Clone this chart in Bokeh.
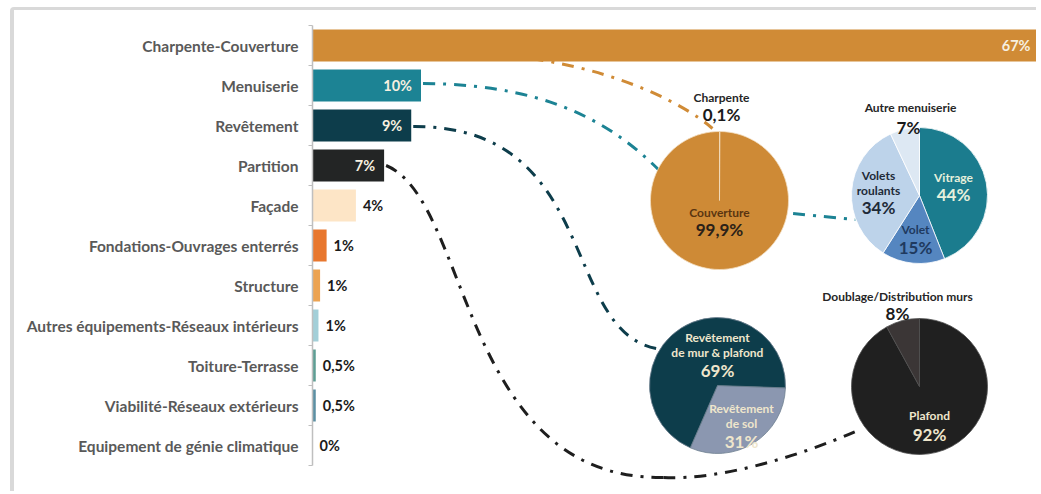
import math
from bokeh.plotting import figure
from bokeh.models import (Range1d, LinearAxis, FixedTicker, ColumnDataSource,
                          CustomJSTickFormatter)
from bokeh.core.properties import value
from bokeh.embed import file_html
from bokeh.resources import INLINE

# ---------------- data ----------------
categories = ["Charpente-Couverture", "Menuiserie", "Revêtement", "Partition", "Façade",
              "Fondations-Ouvrages enterrés", "Structure",
              "Autres équipements-Réseaux intérieurs", "Toiture-Terrasse",
              "Viabilité-Réseaux extérieurs", "Equipement de génie climatique"]
shares = [67, 10, 9.1, 6.6, 4.0, 1.3, 0.7, 0.55, 0.3, 0.3, 0.0]
share_labels = ["67%", "10%", "9%", "7%", "4%", "1%", "1%", "1%", "0,5%", "0,5%", "0%"]
bar_colors = ["#D08B36", "#1C8394", "#0D3D4B", "#232525", "#FDE5C6", "#E8772E",
              "#ECA352", "#A3CFD8", "#5E9E94", "#5B8FA3", "#FFFFFF"]

couverture_parts = ["Charpente", "Couverture"]
couverture_values = [0.1, 99.9]
menuiserie_parts = ["Vitrage", "Volet", "Volets\nroulants", "Autre menuiserie"]
menuiserie_values = [44, 15, 34, 7]
revetement_parts = ["Revêtement\nde sol", "Revêtement\nde mur & plafond"]
revetement_values = [31, 69]
partition_parts = ["Plafond", "Doublage/Distribution murs"]
partition_values = [92, 8]

# ---------------- layout (page pixels) ----------------
FONT = "Lato"
MARGIN_L, MARGIN_T = 10, 7             # white space outside the card
BORDER_L, BORDER_T = 4, 3              # css card border (canvas starts after it)
ORIGIN_X, ORIGIN_Y = MARGIN_L + BORDER_L, MARGIN_T + BORDER_T
PAGE_W, PAGE_H = 1040, 494
W, H = PAGE_W - ORIGIN_X, PAGE_H - ORIGIN_Y
CAT_TOP, CAT_BOTTOM = 25, 465          # page y of the category band
FRAME_LEFT, FRAME_TOP = 312, ORIGIN_Y + 3
N = len(categories)
PX = 10.85                             # pixels per percent
SLOT = (CAT_BOTTOM - CAT_TOP) / N
X_MAX = (PAGE_W - FRAME_LEFT) / PX


def bar_end(i):
    return FRAME_LEFT + shares[i] * PX


def cat_mid(i):
    return CAT_TOP + SLOT * (i + 0.5)


def fmt(v):
    if float(v).is_integer():
        return f"{int(v)}%"
    return f"{v}".replace(".", ",") + "%"


y_lo = N + (PAGE_H - CAT_BOTTOM) / SLOT
y_hi = -(CAT_TOP - FRAME_TOP) / SLOT
p = figure(width=W, height=H,
           x_range=Range1d(0, X_MAX), y_range=Range1d(y_lo, y_hi),
           x_axis_location=None, y_axis_location=None,
           output_backend="svg", toolbar_location=None,
           min_border_left=FRAME_LEFT - ORIGIN_X, min_border_right=0,
           min_border_top=FRAME_TOP - ORIGIN_Y, min_border_bottom=0,
           outline_line_color=None, background_fill_color="white",
           border_fill_color="white")
p.styles = {"margin-left": f"{MARGIN_L}px", "margin-top": f"{MARGIN_T}px",
            "border-top": f"{BORDER_T}px solid #D9D9D9",
            "border-left": f"{BORDER_L}px solid #D9D9D9",
            "border-top-left-radius": "4px"}
p.xgrid.visible = False
p.ygrid.visible = False
p.extra_x_ranges = {"lay": Range1d(FRAME_LEFT, PAGE_W)}
p.extra_y_ranges = {"lay": Range1d(PAGE_H, FRAME_TOP)}

ypos = [i + 0.5 for i in range(N)]

# axes: inner tick axis (category boundaries) + outer category label axis
tick_axis = LinearAxis(ticker=FixedTicker(ticks=list(range(N + 1))), bounds=(0, N),
                       formatter=CustomJSTickFormatter(code="return ''"),
                       major_tick_out=4, major_tick_in=0, minor_tick_out=0, minor_tick_in=0,
                       major_label_standoff=0, axis_line_color="#BFBFBF",
                       major_tick_line_color="#BFBFBF", minor_tick_line_color=None,
                       axis_line_width=1.5, major_label_text_font_size="1px")
p.add_layout(tick_axis, "left")
cat_axis = LinearAxis(ticker=FixedTicker(ticks=ypos),
                      formatter=CustomJSTickFormatter(args=dict(names=categories),
                                                      code="return names[Math.floor(tick)] || ''"),
                      major_tick_out=0, major_tick_in=0, minor_tick_out=0, minor_tick_in=0,
                      axis_line_color=None, major_tick_line_color=None,
                      minor_tick_line_color=None, major_label_standoff=10,
                      major_label_text_font=FONT, major_label_text_font_style="bold",
                      major_label_text_font_size="15.5px", major_label_text_color="#595959")
p.add_layout(cat_axis, "left")

# ---------------- connector curves ----------------
DASH = "12 8 3 8"
curves = [
    # (color, x0, y0, cx0, cy0, cx1, cy1, x1, y1)
    ("#D08B36", 500, 55, 600, 62, 680, 100, 712, 128),
    ("#1C8394", bar_end(1) + 2, cat_mid(1) - 2, 560, 84, 630, 130, 690, 205),
    ("#1C8394", 700, 203, 760, 210, 820, 216, 855, 219),
    ("#0D3D4B", bar_end(2) + 2, cat_mid(2) + 1, 600, 125, 560, 330, 656, 348),
    ("#1E1E1E", bar_end(3) + 2, cat_mid(3), 470, 200, 460, 480, 663, 477),
    ("#1E1E1E", 663, 477, 720, 480, 800, 455, 855, 431),
]
for c, x0, y0, cx0, cy0, cx1, cy1, x1, y1 in curves:
    p.bezier(x0=x0, y0=y0, x1=x1, y1=y1, cx0=cx0, cy0=cy0, cx1=cx1, cy1=cy1,
             line_color=c, line_width=3, line_dash=DASH,
             x_range_name="lay", y_range_name="lay")

# ---------------- bars ----------------
bars = ColumnDataSource(dict(y=ypos, share=shares, color=bar_colors))
p.hbar(y="y", left=0, right="share", height=0.8, fill_color="color",
       line_color=None, source=bars)

inside = [0, 1, 2, 3]
outside = [i for i in range(N) if i not in inside]
p.text(x=[shares[i] for i in inside], y=[ypos[i] for i in inside],
       text=[share_labels[i] for i in inside], x_offset=-9,
       text_align="right", text_baseline="middle", text_font=value(FONT),
       text_font_style="bold", text_font_size="14.5px", text_color="#F7F0E0")
p.text(x=[shares[i] for i in outside], y=[ypos[i] for i in outside],
       text=[share_labels[i] for i in outside], x_offset=7,
       text_align="left", text_baseline="middle", text_font=value(FONT),
       text_font_style="bold", text_font_size="14.5px", text_color="#1A1A1A")

# ---------------- pies ----------------
CREAM = "#EFE6CC"
pies = [
    dict(parts=couverture_parts, values=couverture_values, colors=["#CE8A36", "#CE8A36"],
         edge="#F3DDBF", center=(719, 200), r=69, start=0,
         labels=[(0, (721, 97), "#262626", "#1A1A1A", 0, 17),
                 (1, (719, 212), "#5A3510", "#2B2118", 0, 17)]),
    dict(parts=menuiserie_parts, values=menuiserie_values,
         colors=["#1B7C8E", "#5586C0", "#BDD3EA", "#DDE8F3"],
         edge="white", center=(919, 195), r=68, start=0,
         labels=[(0, (953, 177), "#E6F0DC", "#E6F0DC", 0, 17),
                 (1, (915, 229), "#1F3A5F", "#1F3A5F", 0, 18),
                 (2, (878, 175), "#1E2A38", "#1E2A38", 0, 17),
                 (3, (910, 107), "#262626", "#1A1A1A", -2, 20)]),
    dict(parts=revetement_parts, values=revetement_values, colors=["#8B97B0", "#0D3D4B"],
         edge="#6F8090", center=(717, 385), r=68, start=92,
         labels=[(0, (741, 408), CREAM, CREAM, 0, 18),
                 (1, (717, 337), CREAM, CREAM, 0, 18)]),
    dict(parts=partition_parts, values=partition_values, colors=["#202020", "#3B3636"],
         edge="#505050", center=(919, 386), r=68, start=0,
         labels=[(0, (929, 415), CREAM, CREAM, 0, 19),
                 (1, (897, 296), "#262626", "#1A1A1A", 0, 17)]),
]

tx = dict(x=[], y=[], text=[], size=[], color=[])


def add_text(x, y, t, size, color):
    tx["x"].append(x); tx["y"].append(y); tx["text"].append(t)
    tx["size"].append(size); tx["color"].append(color)


for pie in pies:
    cx, cy = pie["center"]
    vals = pie["values"]
    total = float(sum(vals))
    acc = pie["start"]
    starts, ends = [], []
    for v in vals:
        a1 = acc + 360.0 * v / total
        starts.append(math.radians(90 - acc))
        ends.append(math.radians(90 - a1))
        acc = a1
    p.wedge(x=cx, y=cy, radius=pie["r"], start_angle=starts, end_angle=ends,
            direction="clock", fill_color=pie["colors"], line_color=pie["edge"],
            line_width=0.8, x_range_name="lay", y_range_name="lay")
    for idx, (ax, ay), ncol, vcol, vdx, vgap in pie["labels"]:
        lines = pie["parts"][idx].split("\n")
        for k, ln in enumerate(lines):
            add_text(ax, ay + 15 * k, ln, "12px", ncol)
        add_text(ax + vdx, ay + 15 * (len(lines) - 1) + vgap, fmt(vals[idx]), "17px", vcol)

p.text(x="x", y="y", text="text", text_font_size="size", text_color="color",
       source=ColumnDataSource(tx), text_align="center", text_baseline="middle",
       text_font=value(FONT), text_font_style="bold",
       x_range_name="lay", y_range_name="lay")

open("out.html", "w").write(file_html(p, INLINE))
